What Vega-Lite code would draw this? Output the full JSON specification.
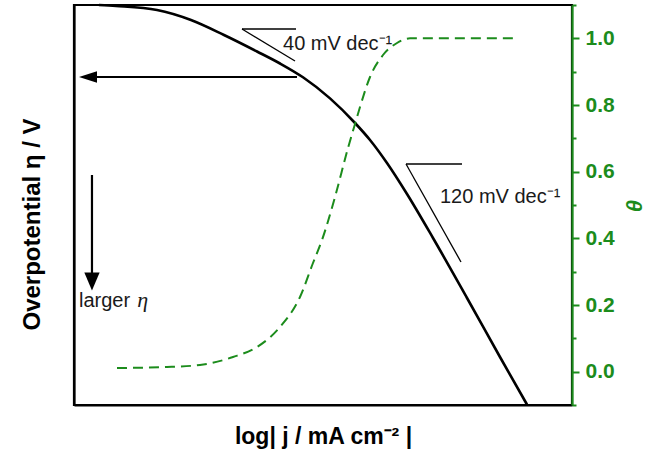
{
  "$schema": "https://vega.github.io/schema/vega-lite/v6.json",
  "width": 498,
  "height": 400,
  "autosize": {"type": "none"},
  "padding": {"left": 74, "top": 5, "right": 73, "bottom": 51},
  "background": "white",
  "config": {
    "view": {"stroke": "black", "strokeWidth": 2.2},
    "axis": {"labelFont": "Liberation Sans", "titleFont": "Liberation Sans", "grid": false}
  },
  "datasets": {
    "eta": [
      {"logj": 0.5, "eta": 0.0},
      {"logj": 0.843, "eta": -0.002},
      {"logj": 1.667, "eta": -0.010},
      {"logj": 2.349, "eta": -0.030},
      {"logj": 3.012, "eta": -0.060},
      {"logj": 3.675, "eta": -0.093},
      {"logj": 4.137, "eta": -0.117},
      {"logj": 4.598, "eta": -0.1446},
      {"logj": 5.141, "eta": -0.1868},
      {"logj": 5.643, "eta": -0.236},
      {"logj": 5.944, "eta": -0.270},
      {"logj": 6.285, "eta": -0.316},
      {"logj": 6.687, "eta": -0.378},
      {"logj": 7.209, "eta": -0.466},
      {"logj": 7.892, "eta": -0.586},
      {"logj": 8.554, "eta": -0.704},
      {"logj": 9.096, "eta": -0.799}
    ],
    "theta": [
      {"logj": 0.863, "theta": 0.011},
      {"logj": 1.867, "theta": 0.014},
      {"logj": 2.530, "theta": 0.020},
      {"logj": 3.193, "theta": 0.044},
      {"logj": 3.675, "theta": 0.074},
      {"logj": 4.137, "theta": 0.134},
      {"logj": 4.538, "theta": 0.224},
      {"logj": 4.799, "theta": 0.326},
      {"logj": 4.980, "theta": 0.395},
      {"logj": 5.241, "theta": 0.524},
      {"logj": 5.502, "theta": 0.671},
      {"logj": 5.643, "theta": 0.743},
      {"logj": 5.743, "theta": 0.794},
      {"logj": 5.944, "theta": 0.884},
      {"logj": 6.205, "theta": 0.950},
      {"logj": 6.486, "theta": 0.986},
      {"logj": 6.747, "theta": 1.0},
      {"logj": 8.916, "theta": 1.0}
    ],
    "slopes": [
      {"x": 3.373, "y": -0.048, "x2": 4.458, "y2": -0.048},
      {"x": 3.373, "y": -0.048, "x2": 4.438, "y2": -0.112},
      {"x": 6.667, "y": -0.318, "x2": 7.791, "y2": -0.318},
      {"x": 6.667, "y": -0.318, "x2": 7.771, "y2": -0.514}
    ],
    "shafts": [
      {"x": 4.478, "y": -0.144, "x2": 0.32, "y2": -0.144},
      {"x": 0.361, "y": -0.34, "x2": 0.361, "y2": -0.55}
    ],
    "headLeft": [{"x": 0.281, "y": -0.144}],
    "headDown": [{"x": 0.361, "y": -0.553}],
    "notes": [
      {"label": "40 mV dec⁻¹", "x": 4.197, "y": -0.09},
      {"label": "120 mV dec⁻¹", "x": 7.349, "y": -0.396},
      {"label": "larger", "x": 0.1, "y": -0.604}
    ],
    "symbols": [
      {"label": "η", "x": 1.27, "y": -0.604}
    ]
  },
  "layer": [
    {
      "layer": [
        {
          "data": {"name": "eta"},
          "mark": {"type": "line", "color": "black", "strokeWidth": 2.6, "interpolate": "monotone"},
          "encoding": {
            "x": {
              "field": "logj", "type": "quantitative",
              "scale": {"domain": [0, 10], "nice": false, "zero": false},
              "axis": {
                "title": "log| j / mA cm⁻² |", "ticks": false, "labels": false,
                "domainColor": "black", "domainWidth": 2.2,
                "titleFontSize": 23, "titleFontWeight": "bold", "titleColor": "black",
                "titlePadding": 20
              }
            },
            "y": {
              "field": "eta", "type": "quantitative",
              "scale": {"domain": [-0.8, 0], "nice": false, "zero": false},
              "axis": {
                "title": "Overpotential η / V", "ticks": false, "labels": false,
                "domainColor": "black", "domainWidth": 2.2,
                "titleFontSize": 24, "titleFontWeight": "bold", "titleColor": "black",
                "titlePadding": 30, "titleY": 219
              }
            }
          }
        },
        {
          "data": {"name": "slopes"},
          "mark": {"type": "rule", "color": "black", "strokeWidth": 1.3},
          "encoding": {
            "x": {"field": "x", "type": "quantitative"},
            "y": {"field": "y", "type": "quantitative"},
            "x2": {"field": "x2"},
            "y2": {"field": "y2"}
          }
        },
        {
          "data": {"name": "shafts"},
          "mark": {"type": "rule", "color": "black", "strokeWidth": 2.2},
          "encoding": {
            "x": {"field": "x", "type": "quantitative"},
            "y": {"field": "y", "type": "quantitative"},
            "x2": {"field": "x2"},
            "y2": {"field": "y2"}
          }
        },
        {
          "data": {"name": "headLeft"},
          "mark": {"type": "point", "shape": "M -1 0 L 1 -0.65 L 1 0.65 Z", "size": 324, "filled": true, "color": "black", "opacity": 1},
          "encoding": {
            "x": {"field": "x", "type": "quantitative"},
            "y": {"field": "y", "type": "quantitative"}
          }
        },
        {
          "data": {"name": "headDown"},
          "mark": {"type": "point", "shape": "M 0 1 L -0.85 -1 L 0.85 -1 Z", "size": 324, "filled": true, "color": "black", "opacity": 1},
          "encoding": {
            "x": {"field": "x", "type": "quantitative"},
            "y": {"field": "y", "type": "quantitative"}
          }
        },
        {
          "data": {"name": "notes"},
          "mark": {"type": "text", "align": "left", "baseline": "alphabetic", "font": "Liberation Sans", "fontSize": 20, "color": "#1a1a1a"},
          "encoding": {
            "x": {"field": "x", "type": "quantitative"},
            "y": {"field": "y", "type": "quantitative"},
            "text": {"field": "label"}
          }
        },
        {
          "data": {"name": "symbols"},
          "mark": {"type": "text", "align": "left", "baseline": "alphabetic", "font": "Liberation Serif", "fontStyle": "italic", "fontSize": 22, "color": "#1a1a1a"},
          "encoding": {
            "x": {"field": "x", "type": "quantitative"},
            "y": {"field": "y", "type": "quantitative"},
            "text": {"field": "label"}
          }
        }
      ]
    },
    {
      "data": {"name": "theta"},
      "mark": {"type": "line", "color": "#1c8c1c", "strokeWidth": 2, "strokeDash": [10, 6], "interpolate": "monotone"},
      "encoding": {
        "x": {"field": "logj", "type": "quantitative"},
        "y": {
          "field": "theta", "type": "quantitative",
          "scale": {"domain": [-0.1, 1.1], "nice": false, "zero": false},
          "axis": {
            "orient": "right", "title": "θ",
            "values": [-0.1, 0, 0.1, 0.2, 0.3, 0.4, 0.5, 0.6, 0.7, 0.8, 0.9, 1.0, 1.1],
            "labelExpr": "abs(round(datum.value*10)) % 2 == 0 ? format(datum.value, '.1f') : ''",
            "tickSize": {"condition": {"test": "abs(round(datum.value*10)) % 2 == 0", "value": 7}, "value": 4},
            "tickColor": "#1c8c1c", "tickWidth": 2,
            "domainColor": "#1c8c1c", "domainWidth": 2.2,
            "labelColor": "#1c8c1c", "labelFontSize": 21, "labelFontWeight": "bold",
            "labelPadding": 6, "labelFlush": false, "labelOverlap": false,
            "titleColor": "#1c8c1c", "titleFontSize": 22, "titleFontWeight": "bold", "titleFontStyle": "italic",
            "titlePadding": 6
          }
        }
      }
    }
  ],
  "resolve": {"scale": {"y": "independent"}}
}
